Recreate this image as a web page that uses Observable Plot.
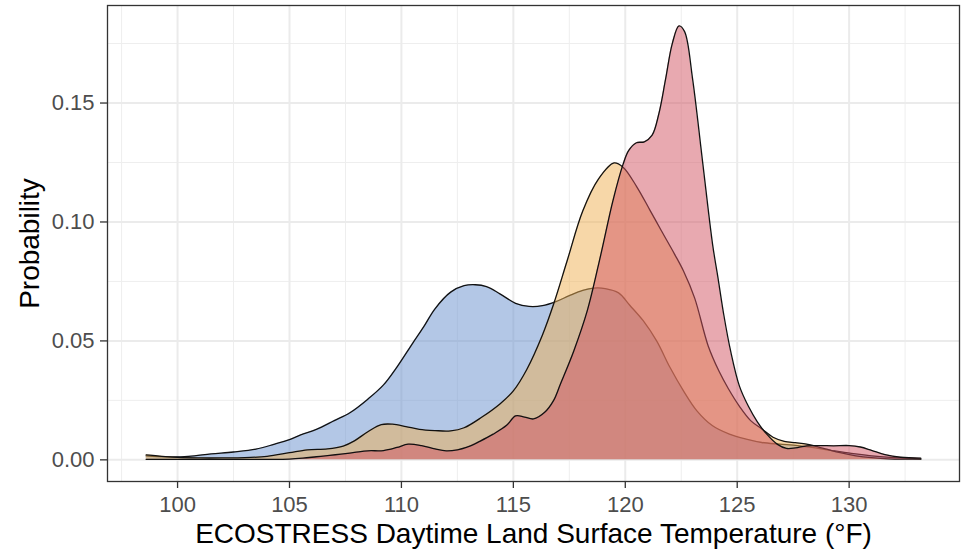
<!DOCTYPE html>
<html>
<head>
<meta charset="utf-8">
<script src="https://cdn.jsdelivr.net/npm/d3@7"></script>
<script src="https://cdn.jsdelivr.net/npm/@observablehq/plot@0.6"></script>
<style>
  html, body { margin: 0; padding: 0; background: #ffffff; }
</style>
</head>
<body>
<div id="chart"></div>
<script>
// ---- Data ----
const blueTemp = [98.6, 99.5, 100.5, 101.5, 102.5, 103.5, 104.3, 105.0, 105.5, 106.2, 107.0, 107.7, 108.5, 109.2, 109.8, 110.5, 111.0, 111.5, 112.2, 112.8, 113.3, 113.8, 114.4, 115.1, 115.7, 116.3, 116.9, 117.5, 118.1, 118.6, 119.1, 119.7, 120.2, 120.8, 121.4, 122.0, 122.6, 123.2, 123.9, 124.65, 125.4, 126.1, 126.9, 127.7, 128.5, 129.3, 130.1, 131.0, 132.0, 133.2];
const blueDens = [0.0017, 0.0013, 0.0015, 0.0025, 0.0033, 0.0045, 0.0065, 0.0085, 0.0105, 0.0128, 0.0165, 0.0198, 0.0255, 0.0315, 0.039, 0.049, 0.056, 0.0635, 0.0705, 0.0732, 0.0736, 0.0728, 0.0698, 0.0658, 0.0645, 0.0648, 0.0665, 0.069, 0.0712, 0.0722, 0.072, 0.0702, 0.065, 0.0585, 0.05, 0.0388, 0.029, 0.0206, 0.0143, 0.0108, 0.0087, 0.0073, 0.0066, 0.006, 0.005, 0.0038, 0.0027, 0.0017, 0.0009, 0.0004];

const yellowTemp = [98.6, 99.3, 100.0, 101.0, 102.0, 103.0, 104.0, 105.0, 105.8, 106.7, 107.4, 107.9, 108.5, 109.1, 109.6, 110.2, 110.8, 111.5, 112.2, 112.8, 113.6, 114.4, 115.0, 115.6, 116.3, 116.8, 117.4, 118.1, 118.8, 119.5, 119.9, 120.5, 121.1, 121.6, 122.2, 122.6, 123.1, 123.7, 124.2, 124.6, 125.1, 125.6, 126.1, 126.6, 127.1, 127.6, 128.1, 128.6, 129.0, 129.6, 130.3, 131.0, 131.8, 132.5, 133.2];
const yellowDens = [0.0021, 0.0015, 0.001, 0.0008, 0.0008, 0.0009, 0.0015, 0.003, 0.0042, 0.0046, 0.0058, 0.008, 0.0118, 0.0148, 0.015, 0.014, 0.0128, 0.0123, 0.0122, 0.0135, 0.018, 0.0235, 0.029, 0.038, 0.0525, 0.0655, 0.0836, 0.1046, 0.118, 0.1248, 0.123, 0.115, 0.105, 0.0965, 0.0865, 0.0794, 0.068, 0.048, 0.037, 0.03, 0.0225, 0.0165, 0.013, 0.0095, 0.0078, 0.0072, 0.0066, 0.0055, 0.0045, 0.003, 0.0017, 0.0009, 0.0004, 0.0003, 0.0003];

const redTemp = [98.6, 100.0, 101.0, 102.0, 103.0, 104.0, 105.0, 105.6, 106.2, 106.8, 107.3, 107.9, 108.5, 109.2, 109.8, 110.3, 110.9, 111.5, 112.0, 112.5, 112.9, 113.5, 114.1, 114.7, 115.1, 115.5, 115.9, 116.4, 116.8, 117.1, 117.7, 118.3, 118.9, 119.45, 119.9, 120.15, 120.5, 120.85, 121.2, 121.5, 121.8, 122.1, 122.4, 122.65, 123.0, 123.45, 123.9, 124.15, 124.4, 124.7, 125.1, 125.5, 125.9, 126.3, 126.8, 127.2, 127.6, 128.1, 128.7, 129.3, 130.0, 130.5, 131.0, 131.6, 132.3, 133.2];
const redDens = [0.0002, 0.0002, 0.0002, 0.0002, 0.0002, 0.0002, 0.0003, 0.0007, 0.0013, 0.0019, 0.0024, 0.0031, 0.0038, 0.0039, 0.0052, 0.0066, 0.006, 0.0046, 0.0038, 0.0042, 0.0052, 0.0078, 0.0108, 0.0145, 0.0185, 0.018, 0.0172, 0.02, 0.025, 0.0318, 0.0458, 0.0626, 0.086, 0.109, 0.1242, 0.13, 0.1333, 0.1337, 0.1365, 0.1455, 0.16, 0.175, 0.1824, 0.18, 0.1606, 0.1256, 0.0906, 0.076, 0.061, 0.046, 0.031, 0.0225, 0.016, 0.011, 0.0065, 0.0048, 0.005, 0.0059, 0.006, 0.0059, 0.006, 0.0054, 0.004, 0.0022, 0.0011, 0.0007];

const xTicks = [100, 105, 110, 115, 120, 125, 130];
const xMinor = [97.5, 102.5, 107.5, 112.5, 117.5, 122.5, 127.5, 132.5];
const yTicks = [0, 0.05, 0.10, 0.15];
const yTickLabels = ["0.00", "0.05", "0.10", "0.15"];
const yMinor = [0.025, 0.075, 0.125, 0.175];

const xTitle = "ECOSTRESS Daytime Land Surface Temperature (°F)";
const yTitle = "Probability";

const seriesColors = ["#678FCD", "#EFAF51", "#D15361"];

// ---- Build tables ----
const rows = (T, D) => T.map((t, i) => ({t, d: D[i]}));
const series = [rows(blueTemp, blueDens), rows(yellowTemp, yellowDens), rows(redTemp, redDens)];

const marks = [
  Plot.ruleX(xMinor, {stroke: "#EEEEEE", strokeWidth: 1}),
  Plot.ruleY(yMinor, {stroke: "#EEEEEE", strokeWidth: 1}),
  Plot.ruleX(xTicks, {stroke: "#EBEBEB", strokeWidth: 2}),
  Plot.ruleY(yTicks, {stroke: "#EBEBEB", strokeWidth: 2})
];
series.forEach((s, i) => {
  marks.push(Plot.areaY(s, {x: "t", y: "d", fill: seriesColors[i], fillOpacity: 0.5, curve: "catmull-rom"}));
  marks.push(Plot.lineY(s, {x: "t", y: "d", stroke: "#111111", strokeWidth: 1.3, curve: "catmull-rom"}));
});
marks.push(
  Plot.frame({stroke: "#333333", strokeWidth: 1.3}),
  Plot.axisX(xTicks, {tickSize: 7, tickPadding: 8, fontSize: 22, fill: "#4D4D4D", stroke: "#333333", strokeWidth: 1.3, label: null}),
  Plot.axisY(yTicks, {tickSize: 7, tickPadding: 6, fontSize: 22, fill: "#4D4D4D", stroke: "#333333", strokeWidth: 1.3, label: null,
    tickFormat: d => yTickLabels[yTicks.indexOf(d)]}),
  Plot.text([xTitle], {frameAnchor: "bottom", dy: 61, lineAnchor: "bottom", textAnchor: "middle", fontSize: 28, fill: "#000000"}),
  Plot.text([yTitle], {frameAnchor: "left", dx: -69, rotate: -90, lineAnchor: "bottom", textAnchor: "middle", fontSize: 28, fill: "#000000"})
);

const chart = Plot.plot({
  width: 965,
  height: 550,
  marginLeft: 107,
  marginRight: 6,
  marginTop: 5,
  marginBottom: 69,
  style: {fontFamily: "'Liberation Sans', Arial, sans-serif", background: "#ffffff"},
  x: {domain: [96.87, 134.93]},
  y: {domain: [-0.0091, 0.191]},
  marks
});
document.getElementById("chart").appendChild(chart);
</script>
</body>
</html>
